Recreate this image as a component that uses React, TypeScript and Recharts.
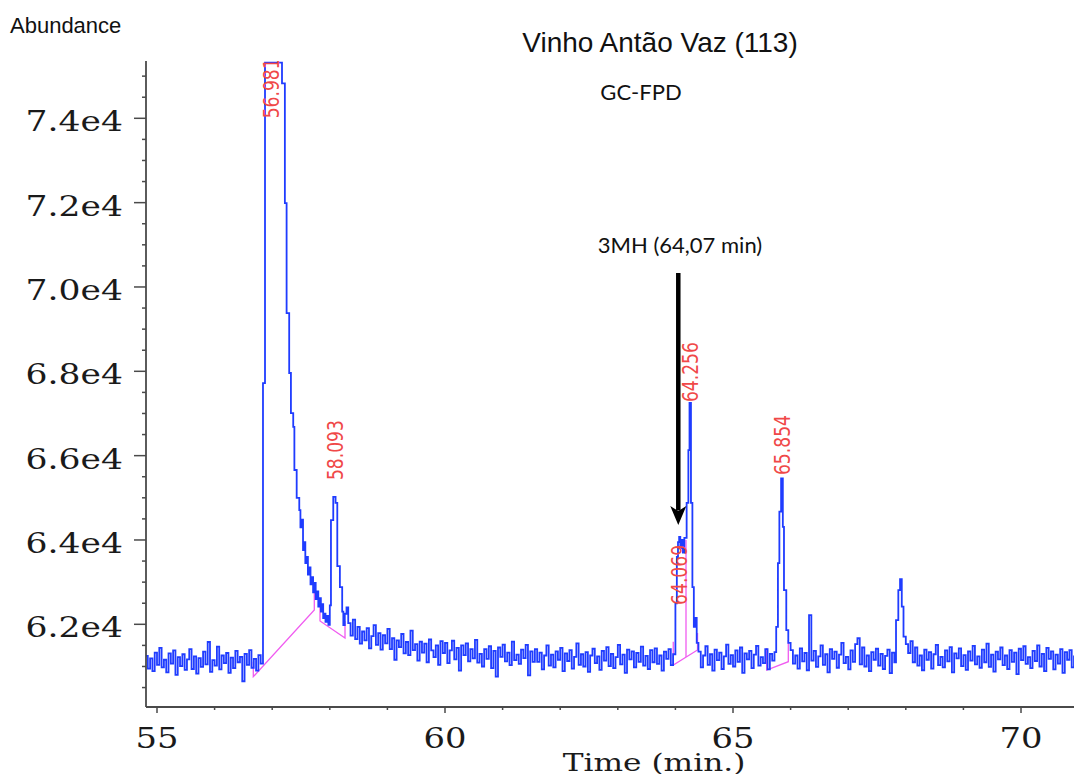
import { ComposedChart, Line, Scatter, XAxis, YAxis } from "recharts";

// baseline segments are stored as one reading every SAMPLE_STEP minutes from their start time
const SAMPLE_STEP = 0.04;

const noise1Start = 54.8;
const noise1 = [
  61250, 60950, 61190, 60890, 61330, 61040, 61440, 60980, 61160, 60860,
  61310, 61070, 61380, 60800, 61220, 61010, 61290, 60920, 61170, 61410,
  60940, 61240, 60830, 61200, 60990, 61350, 61050, 61580, 60870, 61150,
  61020, 61470, 60930, 61260, 61080, 61320, 60850, 61210, 60960, 61370,
  61100, 61230, 60650, 61300, 61040, 61390, 60970, 61180, 60900, 61270,
  61070,
];

const peak57: [number, number][] = [
  [56.84, 67720], [56.875, 75320], [57.17, 74830], [57.22, 71990], [57.25, 69380],
  [57.295, 67960], [57.325, 67010], [57.365, 66680], [57.385, 65660], [57.425, 65000],
  [57.47, 64710], [57.49, 64300], [57.51, 64480], [57.535, 63760], [57.555, 63950],
  [57.575, 63450], [57.6, 63600], [57.62, 63180], [57.645, 63350], [57.665, 62950],
  [57.69, 63120], [57.71, 62760], [57.735, 62980], [57.755, 62600], [57.78, 62780],
  [57.8, 62420], [57.825, 62620], [57.845, 62300], [57.865, 62480], [57.885, 62150],
  [57.905, 62250], [57.925, 62060], [57.95, 62200], [57.975, 61990], [58.0, 62450],
];

const peak58: [number, number][] = [
  [58.02, 64470], [58.06, 65020], [58.1, 64880], [58.13, 63380], [58.175, 62880],
  [58.215, 62300], [58.235, 61980], [58.26, 62250], [58.29, 62400],
];

const noise2Start = 58.32;
const noise2 = [
  62030, 61730, 62110, 61650, 61940, 61540, 61830, 61620, 61910, 61430,
  61720, 61980, 61510, 61790, 61400, 61740, 61550, 61890, 61410, 61670,
  61160, 61620, 61460, 61770, 61310, 61580, 61270, 61850, 61390, 61530,
  61140, 61590, 61330, 61540, 61100, 61640, 61380, 61220, 61500, 61040,
  61600, 61320, 61560, 61080, 61380, 61610, 61170, 61440, 60900, 61500,
  61270, 61550, 61120, 61410, 61190, 61630, 61090, 61300, 61000, 61410,
  61180, 61480, 60960, 61370, 60760, 61450, 61230, 61520, 61120, 61330,
  61030, 61590, 61150, 61280, 61060, 61400, 61200, 61510, 60790, 61360,
  61110, 61410, 61110, 61330, 60930, 61260, 61500, 61020, 61280, 60980,
  61360, 61160, 61440, 60890, 61310, 61130, 61390, 60950, 61230, 61550,
  61040, 61290, 61000, 61340, 60870, 61260, 61420, 61080, 61240, 60920,
  61370, 61140, 61460, 61010, 61300, 60960, 61220, 61510, 61050, 61280,
  60850, 61400, 61170, 61360, 60980, 61320, 61110, 61470, 61020, 61250,
  60940, 61390, 61100, 61430, 61060, 61260, 60900, 61350, 61180, 61410,
  61030, 61290,
];

const peak64: [number, number][] = [
  [64.0, 62500], [64.025, 63600], [64.045, 63950], [64.065, 64070], [64.085, 63800],
  [64.105, 64000], [64.13, 63700], [64.155, 64050], [64.195, 64880], [64.225, 66130],
  [64.245, 67250], [64.27, 64880], [64.295, 62880], [64.32, 61940], [64.345, 62150],
  [64.37, 61560],
];

const noise3Start = 64.4;
const noise3 = [
  61350, 60980, 61260, 61480, 61040, 61290, 60900, 61400, 61150, 61330,
  60940, 61240, 61520, 61060, 61270, 61000, 61380, 61110, 61450, 60850,
  61310, 61170, 61370, 60960, 61280, 61490, 61020, 61220, 61080, 61410,
  60930, 61300, 61140, 61340,
];

const peak66: [number, number][] = [
  [65.75, 61940], [65.78, 63450], [65.805, 64670], [65.835, 65460], [65.865, 64310],
  [65.885, 62810], [65.925, 61860], [65.96, 61560],
];

const noise4Start = 66.0;
const noise4 = [
  61390, 61070, 61260, 60950, 61430, 61120, 61320, 60910, 62220, 61140,
  61370, 60990, 61240, 61500, 61040, 61290, 60860, 61410, 61180, 61350,
  60970, 61280, 61560, 61080, 61230, 60930, 61380, 61110, 61530, 61670,
  61050, 61450, 61000, 61260, 60890, 61340, 61160, 61420, 61020, 61300,
  60940, 61250, 61400, 60840, 61330, 61100,
];

const peak68: [number, number][] = [
  [67.83, 62100], [67.87, 62810], [67.9, 63070], [67.93, 62420], [67.96, 61710],
];

const noise5Start = 68.0;
const noise5 = [
  61530, 61320, 61600, 61100, 61450, 61020, 61260, 60910, 61400, 61160,
  61340, 60950, 61290, 61510, 61030, 61230, 60980, 61380, 61120, 61460,
  60860, 61310, 61190, 61430, 61010, 61270, 60920, 61360, 61140, 61490,
  61050, 61240, 60970, 61400, 61100, 61540, 60990, 61280, 60880, 61350,
  61170, 61450, 61030, 61260, 60940, 61390, 61110, 61330, 60820, 61420,
  61150, 61480, 61060, 61220, 60960, 61370, 61130, 61500, 61000, 61300,
  60890, 61440, 61180, 61360, 60930, 61280, 61070, 61410, 60850, 61340,
  61160, 61390, 60980, 61260,
];

// integration baselines (magenta), each with its start/end drop ticks
const pinkA: [number, number][] = [[56.672, 61114], [56.672, 60758], [57.731, 62340], [57.731, 62884]];
const pinkB: [number, number][] = [[57.83, 62481], [57.83, 62078], [58.264, 61675], [58.264, 62078]];
const pinkC: [number, number][] = [[63.963, 61587], [63.963, 61035], [64.384, 61392], [64.384, 61794]];
const pinkCDrop: [number, number][] = [[64.184, 63999], [64.184, 61222]];
const pinkD: [number, number][] = [[65.585, 61438], [65.585, 60916], [65.96, 61113], [65.96, 61628]];

const peakLabels = [
  { t: 56.981, y: 74000, text: "56.981" },
  { t: 58.093, y: 65420, text: "58.093" },
  { t: 64.069, y: 62460, text: "64.069" },
  { t: 64.256, y: 67270, text: "64.256" },
  { t: 65.854, y: 65540, text: "65.854" },
];

const arrowShaft: [number, number][] = [[64.05, 70330], [64.05, 64700]];
const arrowTip = [{ t: 64.05, y: 64354 }];
const arrowNote = [{ t: 64.08, y: 70800, text: "3MH (64,07 min)" }];

const xTicks = [55, 56, 57, 58, 59, 60, 61, 62, 63, 64, 65, 66, 67, 68, 69, 70];
const xTickLabels = [55, 60, 65, 70];
const yTicks = [
  60500, 61000, 61500, 62000, 62500, 63000, 63500, 64000, 64500, 65000, 65500,
  66000, 66500, 67000, 67500, 68000, 68500, 69000, 69500, 70000, 70500, 71000,
  71500, 72000, 72500, 73000, 73500, 74000, 74500, 75000,
];
const yTickLabels = [62000, 64000, 66000, 68000, 70000, 72000, 74000];

const pts = (rows: [number, number][]) => rows.map(([t, y]) => ({ t, y }));
const sampled = (start: number, vals: number[]) =>
  vals.map((y, i) => ({ t: Math.round((start + i * SAMPLE_STEP) * 1000) / 1000, y }));

const trace = [
  ...sampled(noise1Start, noise1),
  ...pts(peak57),
  ...pts(peak58),
  ...sampled(noise2Start, noise2),
  ...pts(peak64),
  ...sampled(noise3Start, noise3),
  ...pts(peak66),
  ...sampled(noise4Start, noise4),
  ...pts(peak68),
  ...sampled(noise5Start, noise5),
];

const BLUE = "#1f3cff";
const PINK = "#f05cf0";
const RED = "#f04848";
const AXIS = "#4a4a4a";
const SERIF = "'DejaVu Serif', 'Liberation Serif', serif";

function XTick({ x, y, payload }: any) {
  const major = xTickLabels.includes(payload.value);
  return (
    <g>
      <line x1={x} x2={x} y1={y} y2={y + (major ? 6 : 3)} stroke={AXIS} strokeWidth={1.5} />
      {major && (
        <text
          transform={`translate(${x},${y + 41}) scale(1.25,1)`}
          textAnchor="middle"
          fontFamily={SERIF}
          fontSize={27}
          fill="#1a1a1a"
        >
          {payload.value}
        </text>
      )}
    </g>
  );
}

function YTick({ x, y, payload }: any) {
  const major = yTickLabels.includes(payload.value);
  return (
    <g>
      <line x1={x - (major ? 12 : 4)} x2={x} y1={y} y2={y} stroke={AXIS} strokeWidth={1.5} />
      {major && (
        <text
          transform={`translate(${x - 23},${y + 13}) scale(1.28,1)`}
          textAnchor="end"
          fontFamily={SERIF}
          fontSize={27}
          fill="#1a1a1a"
        >
          {(payload.value / 10000).toFixed(1)}e4
        </text>
      )}
    </g>
  );
}

function PeakLabel({ cx, cy, payload }: any) {
  return (
    <text
      x={cx}
      y={cy}
      dy="0.36em"
      transform={`rotate(-90 ${cx} ${cy})`}
      fontFamily="'Liberation Sans Narrow', 'DejaVu Sans Condensed', 'Liberation Sans', sans-serif"
      fontSize={22}
      fill={RED}
      textLength={60}
      lengthAdjust="spacingAndGlyphs"
    >
      {payload.text}
    </text>
  );
}

function ArrowHead({ cx, cy }: any) {
  return <path d={`M${cx},${cy} L${cx - 8},${cy - 19} L${cx},${cy - 14} L${cx + 8},${cy - 19} Z`} fill="#000" />;
}

function NoteText({ cx, cy, payload }: any) {
  return (
    <text x={cx} y={cy} textAnchor="middle" fontFamily="Lato, 'Open Sans', sans-serif" fontSize={22} fill="#111">
      {payload.text}
    </text>
  );
}

export default function App() {
  return (
    <div style={{ position: "relative", width: 1074, height: 774, background: "#fff", overflow: "hidden" }}>
      <style>{"body{margin:0;overflow:hidden}"}</style>
      <ComposedChart width={1074} height={774} margin={{ top: 61, right: 0, bottom: 0, left: 0 }}>
        <XAxis
          dataKey="t"
          type="number"
          domain={[54.809, 70.92]}
          allowDataOverflow
          ticks={xTicks}
          interval={0}
          height={67}
          tickSize={0}
          tickMargin={0}
          tickLine={false}
          axisLine={{ stroke: AXIS, strokeWidth: 1.8 }}
          tick={(p: any) => <XTick {...p} />}
        />
        <YAxis
          dataKey="y"
          type="number"
          domain={[60039, 75359]}
          allowDataOverflow
          ticks={yTicks}
          interval={0}
          width={146}
          tickSize={0}
          tickMargin={0}
          tickLine={false}
          axisLine={{ stroke: AXIS, strokeWidth: 1.8 }}
          tick={(p: any) => <YTick {...p} />}
        />
        <Scatter data={peakLabels} dataKey="y" isAnimationActive={false} shape={(p: any) => <PeakLabel {...p} />} />
        {[pinkA, pinkB, pinkC, pinkCDrop, pinkD].map((seg, i) => (
          <Line
            key={i}
            data={pts(seg)}
            dataKey="y"
            type="linear"
            stroke={PINK}
            strokeWidth={1.3}
            dot={false}
            activeDot={false}
            isAnimationActive={false}
          />
        ))}
        <Line
          data={trace}
          dataKey="y"
          type="stepAfter"
          stroke={BLUE}
          strokeWidth={1.8}
          dot={false}
          activeDot={false}
          isAnimationActive={false}
        />
        <Line
          data={pts(arrowShaft)}
          dataKey="y"
          type="linear"
          stroke="#000"
          strokeWidth={4.5}
          dot={false}
          activeDot={false}
          isAnimationActive={false}
        />
        <Scatter data={arrowTip} dataKey="y" isAnimationActive={false} shape={(p: any) => <ArrowHead {...p} />} />
        <Scatter data={arrowNote} dataKey="y" isAnimationActive={false} shape={(p: any) => <NoteText {...p} />} />
      </ComposedChart>
      <svg width={1074} height={774} style={{ position: "absolute", left: 0, top: 0, pointerEvents: "none" }}>
        <text x={10} y={33} fontFamily="'Liberation Sans', Arial, sans-serif" fontSize={22} fill="#111">
          Abundance
        </text>
        <text x={660} y={52} textAnchor="middle" fontFamily="'Liberation Sans', Arial, sans-serif" fontSize={28} fill="#111">
          Vinho Antão Vaz (113)
        </text>
        <text x={641} y={100} textAnchor="middle" fontFamily="Lato, 'Open Sans', sans-serif" fontSize={22} fill="#111">
          GC-FPD
        </text>
        <text
          transform="translate(654,771) scale(1.3,1)"
          textAnchor="middle"
          fontFamily={SERIF}
          fontSize={24}
          fill="#1a1a1a"
        >
          Time (min.)
        </text>
      </svg>
    </div>
  );
}
